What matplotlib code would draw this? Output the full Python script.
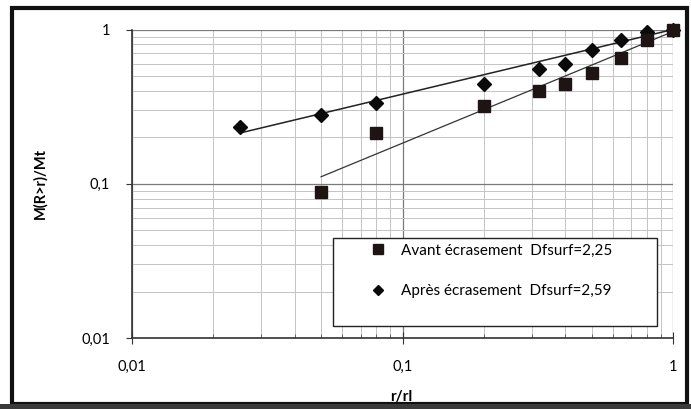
"""Log-log cumulative mass distribution M(R>r)/Mt versus r/rl, before and
after crushing, with the fitted power-law trend lines."""
import matplotlib
matplotlib.use("Agg")
import matplotlib.pyplot as plt
from matplotlib.patches import Rectangle
from matplotlib.ticker import FixedLocator, FixedFormatter, LogLocator, NullFormatter

plt.rcParams["font.family"] = ["Lato", "DejaVu Sans"]

# ── data ──────────────────────────────────────────────────────────────────────
r_avant = [0.05, 0.08, 0.2, 0.32, 0.4, 0.5, 0.64, 0.8, 1.0]
m_avant = [0.088, 0.213, 0.32, 0.40, 0.445, 0.525, 0.657, 0.86, 1.0]

r_apres = [0.025, 0.05, 0.08, 0.2, 0.32, 0.4, 0.5, 0.64, 0.8, 1.0]
m_apres = [0.233, 0.28, 0.334, 0.445, 0.557, 0.60, 0.74, 0.86, 0.97, 1.0]

# trend-line end points (power law, straight on log-log axes)
fit_avant_r = [0.05, 1.0]
fit_avant_m = [0.111, 0.97]
fit_apres_r = [0.025, 1.0]
fit_apres_m = [0.213, 1.0]

label_avant = "Avant écrasement  Dfsurf=2,25"
label_apres = "Après écrasement  Dfsurf=2,59"
decade_ticks = [0.01, 0.1, 1]
decade_labels = ["0,01", "0,1", "1"]

W, H = 691, 409

# ── figure ────────────────────────────────────────────────────────────────────
fig = plt.figure(figsize=(W / 100, H / 100), dpi=100)
ax = fig.add_axes([132 / W, 1 - 338 / H, 541 / W, 308.5 / H])
ax.set_xscale("log")
ax.set_yscale("log")
ax.set_xlim(0.01, 1)
ax.set_ylim(0.01, 1)

ax.plot(fit_apres_r, fit_apres_m, color="#222222", lw=1.1, zorder=3)
ax.plot(fit_avant_r, fit_avant_m, color="#333333", lw=0.9, zorder=3)
ax.plot(r_avant, m_avant, ls="none", marker="s", ms=8.5, color="#1e1414",
        label=label_avant, zorder=5, clip_on=False)
ax.plot(r_apres, m_apres, ls="none", marker="D", ms=6.8, color="#0a0a0a",
        label=label_apres, zorder=4, clip_on=False)

# axes / grid
for axis in (ax.xaxis, ax.yaxis):
    axis.set_major_locator(FixedLocator(decade_ticks))
    axis.set_major_formatter(FixedFormatter(decade_labels))
    axis.set_minor_locator(LogLocator(base=10, subs=range(2, 10)))
    axis.set_minor_formatter(NullFormatter())
ax.grid(which="major", color="#7a7a7a", lw=0.9)
ax.grid(which="minor", color="#c4c4c4", lw=0.7)
ax.set_axisbelow(True)

for side in ("top", "right"):
    ax.spines[side].set_visible(False)
for side in ("left", "bottom"):
    ax.spines[side].set_color("#333333")
    ax.spines[side].set_linewidth(1.2)

ax.tick_params(axis="y", which="major", direction="out", length=4,
               labelsize=10.5, pad=12, color="#333333")
ax.tick_params(axis="y", which="minor", length=0)
ax.tick_params(axis="x", which="major", direction="inout", length=8,
               labelsize=10.5, pad=12, color="#333333")
ax.tick_params(axis="x", which="minor", direction="in", length=3,
               color="#555555")

ax.set_ylabel("M(R>r)/Mt", fontsize=10.5, fontweight="bold", labelpad=24)
fig.text(401 / W, 1 - 397 / H, "r/rl", ha="center", va="center",
         fontsize=11, fontweight="bold")

# legend: entries without frame, box drawn separately (extra space at bottom)
leg = ax.legend(loc="upper left", bbox_to_anchor=(366 / W, 1 - 239 / H),
                bbox_transform=fig.transFigure, frameon=False, fontsize=11,
                handlelength=1.0, handletextpad=1.0, labelspacing=1.75,
                borderpad=0.3, borderaxespad=0, markerscale=0.8)
leg.set_zorder(7)
ax.add_patch(Rectangle((333 / W, 1 - 326 / H), 324 / W, 88 / H,
                       transform=fig.transFigure, facecolor="white",
                       edgecolor="#222222", lw=1.0, zorder=6, clip_on=False))

# outer chart frame, drawn on an overlay in pixel units
frame = fig.add_axes([0, 0, 1, 1], zorder=20)
frame.set_xlim(0, W)
frame.set_ylim(H, 0)
frame.axis("off")
frame.patch.set_alpha(0)
frame.add_patch(Rectangle((12, 8), 675, 396, facecolor="none",
                          edgecolor="#111111", lw=3.0, clip_on=False))
frame.add_patch(Rectangle((0, 404), W, 5, facecolor="#3a3a3a",
                          edgecolor="none", clip_on=False))

fig.savefig("out.png", dpi=100)
